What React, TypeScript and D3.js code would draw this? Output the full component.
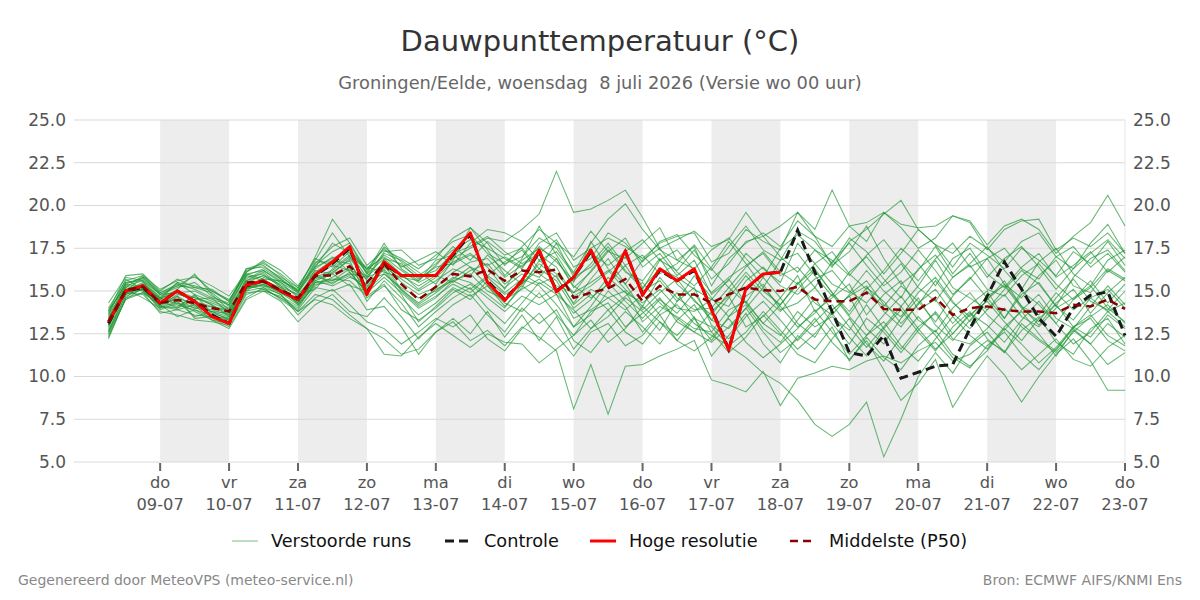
import { useEffect, useRef } from "react";
import * as d3 from "d3";

// Dutch day abbreviations, indexed by getUTCDay()
const dayNames = ["zo", "ma", "di", "wo", "do", "vr", "za"];

// 6-hourly values, first step 08-07 06:00
const hiRes = [
  13.2, 15.0, 15.3, 14.3, 15.0, 14.4, 13.5, 13.1, 15.35, 15.6,
  15.0, 14.5, 15.95, 16.7, 17.6, 14.8, 16.7, 15.9, 15.9, 15.9,
  17.2, 18.4, 15.5, 14.45, 15.6, 17.4, 14.95, 15.8, 17.4, 15.3,
  17.35, 14.75, 16.3, 15.6, 16.3, 13.9, 11.55, 15.15, 16.0, 16.1,
];

const control = [
  13.1, 15.0, 15.2, 14.3, 15.0, 14.4, 13.6, 13.1, 15.3, 15.6,
  15.0, 14.5, 15.9, 16.6, 17.5, 14.9, 16.6, 15.9, 15.9, 15.9,
  17.1, 18.3, 15.6, 14.5, 15.6, 17.3, 15.0, 15.8, 17.3, 15.3,
  17.3, 14.8, 16.2, 15.6, 16.2, 14.0, 11.6, 15.1, 16.0, 16.1,
  18.55, 16.1, 13.8, 11.4, 11.2, 12.4, 9.9, 10.25, 10.6, 10.7,
  12.8, 14.7, 16.7, 15.1, 13.4, 12.35, 14.0, 14.75, 14.95, 12.4,
];

const p50 = [
  13.2, 15.06, 15.25, 14.3, 14.47, 14.3, 14.0, 13.8, 15.5, 15.55,
  15.06, 14.6, 15.9, 15.9, 16.45, 15.5, 16.6, 15.4, 14.5, 15.25,
  16.0, 15.85, 16.25, 15.6, 16.2, 16.1, 16.25, 14.6, 14.9, 15.15,
  15.7, 14.4, 15.3, 14.8, 14.8, 14.3, 14.8, 15.2, 15.05, 15.0,
  15.25, 14.5, 14.4, 14.4, 14.9, 13.95, 13.9, 13.9, 14.6, 13.6,
  14.0, 14.1, 13.9, 13.8, 13.8, 13.7, 14.2, 14.1, 14.5, 13.95,
];

const members: number[][] = [
  [13.0,15.3,15.6,14.1,14.8,14.6,14.2,13.5,15.8,16.0, 15.2,14.4,16.3,17.0,16.1,14.9,16.9,16.0,15.1,15.8, 16.7,17.2,16.4,15.1,16.8,17.5,16.9,15.2,16.1,17.3, 18.1,16.4,17.2,15.9,16.8,14.8,15.6,17.2,16.3,15.5, 17.8,16.6,15.4,14.9,16.2,15.0,14.1,15.3,16.8,15.2, 14.6,13.9,15.1,16.2,15.4,14.1,15.8,16.9,17.4,16.2],
  [13.5,14.8,15.1,14.6,14.2,13.9,13.6,13.2,15.2,15.4, 14.9,14.2,15.5,15.6,16.0,15.8,16.2,14.8,13.2,14.1, 15.1,14.5,15.6,14.8,15.3,14.6,15.2,13.4,13.9,14.6, 15.0,13.2,14.1,13.5,12.8,12.6,13.9,14.4,13.1,12.4, 13.8,12.9,13.5,12.7,14.2,12.8,11.6,12.9,13.7,12.2, 11.9,12.8,14.0,12.9,12.1,11.4,12.6,13.5,14.2,13.1],
  [12.6,15.0,15.8,14.8,15.3,15.9,15.0,14.4,16.1,16.7, 15.9,15.0,16.6,17.6,18.1,16.5,17.4,16.9,16.3,17.1, 17.9,18.3,17.2,16.6,17.0,18.1,17.5,16.1,17.8,19.2, 20.1,18.6,17.4,16.8,17.6,15.3,16.9,17.8,18.4,17.6, 19.1,18.2,16.5,17.3,18.8,16.9,15.4,16.2,17.6,16.0, 17.2,15.8,16.9,17.6,16.4,15.1,16.3,17.8,18.9,17.2],
  [13.1,14.9,14.8,13.8,13.6,13.3,13.2,13.0,14.8,15.1, 14.6,13.9,15.2,15.0,15.4,13.9,14.1,12.9,11.3,12.6, 13.4,12.5,13.8,12.3,13.6,12.1,13.5,11.6,12.8,13.9, 12.6,11.9,13.2,12.4,13.5,11.2,12.4,13.7,11.9,10.8, 12.4,11.6,12.9,10.9,12.3,11.1,10.4,11.8,12.7,11.3, 10.6,11.5,12.8,11.9,10.8,11.7,12.9,13.4,12.1,11.5],
  [14.0,15.6,15.9,14.9,15.4,15.1,14.6,14.3,16.3,16.4, 15.8,15.2,16.9,16.4,17.3,16.1,17.8,16.3,15.6,16.5, 17.6,16.8,17.9,17.1,17.5,16.3,17.8,15.8,16.4,17.6, 16.2,15.1,16.8,17.4,16.2,14.9,15.8,16.5,17.2,15.9, 16.4,15.2,16.7,17.8,16.5,15.3,16.1,17.4,16.2,14.8, 15.7,16.9,15.4,14.6,15.9,16.8,15.3,14.9,16.2,15.6],
  [12.2,14.6,15.4,14.4,14.0,14.8,13.7,13.4,15.6,15.9, 15.3,14.8,15.8,16.2,17.0,15.6,16.0,15.1,14.2,14.9, 15.7,16.4,15.3,14.1,15.2,16.8,16.0,14.9,15.5,16.2, 15.1,14.1,15.8,14.6,13.9,14.0,15.2,14.3,15.8,14.6, 15.9,13.8,14.6,15.4,13.6,14.8,15.6,13.9,14.5,13.1, 14.2,15.0,13.4,14.8,15.5,14.1,13.3,14.6,15.1,14.0],
  [12.9,15.2,15.0,14.0,14.7,14.1,13.9,13.6,15.1,15.8, 15.4,14.7,16.1,16.8,16.6,15.3,16.4,15.7,15.0,15.6, 16.3,15.9,17.1,16.2,15.4,16.6,15.8,14.3,15.7,16.9, 15.4,13.9,14.9,15.7,14.4,13.6,14.9,16.1,15.0,14.2, 15.4,16.3,14.9,13.8,15.2,14.4,13.1,14.2,15.6,14.3, 13.5,14.7,15.3,14.0,13.2,14.6,15.7,14.4,13.9,15.0],
  [13.8,15.9,16.0,15.0,15.7,15.2,14.9,14.1,16.0,15.7, 15.6,15.1,17.0,19.2,17.8,16.2,17.1,16.5,15.8,16.2, 17.2,17.6,18.2,17.3,16.6,17.2,18.0,16.4,16.9,18.4, 17.8,16.7,17.9,18.3,17.1,16.2,17.6,18.8,17.4,16.8, 18.5,17.9,16.6,18.1,17.3,16.0,17.2,18.6,17.7,16.4, 17.8,17.1,16.3,17.5,16.8,15.9,17.3,16.6,17.9,16.5],
  [12.4,14.5,14.9,14.2,13.5,13.9,13.4,12.9,14.6,15.2, 14.8,13.6,14.6,15.1,14.2,13.2,12.8,11.9,12.6,13.4, 12.9,13.6,12.2,11.5,12.8,13.7,12.4,11.2,12.6,13.1, 11.8,12.4,13.6,12.1,11.5,12.3,13.4,12.0,11.1,11.9, 12.8,13.9,12.6,11.3,12.4,13.2,11.8,10.9,12.2,13.5, 12.4,11.6,12.9,13.8,12.5,11.2,12.7,11.9,13.1,12.3],
  [13.4,15.0,15.5,14.5,15.1,16.0,14.8,13.9,15.3,15.5, 15.0,14.3,15.7,16.1,16.8,14.6,15.3,14.3,12.9,13.8, 14.6,15.2,14.0,13.1,14.3,15.5,14.8,12.9,13.6,15.0, 14.1,12.6,13.8,14.9,13.4,12.1,13.5,14.2,12.8,12.0, 13.3,14.6,13.1,11.9,13.4,12.6,11.4,12.7,13.8,12.5, 13.6,14.4,13.2,12.1,13.4,14.2,12.9,12.3,13.6,12.8],
  [13.3,15.4,15.2,14.3,14.5,14.0,14.1,13.8,15.4,15.3, 15.1,14.5,15.9,16.5,16.2,15.9,16.6,15.5,14.8,15.2, 16.1,16.7,16.9,15.8,16.5,17.1,16.4,14.7,15.3,16.1, 17.0,15.2,16.3,15.8,15.1,14.5,14.1,15.6,16.4,15.3, 14.8,15.7,16.2,15.0,14.3,15.5,16.6,15.2,14.4,15.8, 16.5,15.1,14.7,15.9,16.6,15.4,14.5,15.2,16.3,15.7],
  [12.7,14.7,15.1,13.9,14.3,13.8,13.3,13.1,14.9,15.0, 14.7,14.1,15.4,15.5,15.9,15.1,16.3,15.0,14.1,14.7, 15.4,14.9,15.8,14.9,15.7,15.3,14.2,12.9,14.1,15.5, 14.4,13.4,14.5,13.7,14.9,13.3,12.8,14.0,15.2,14.1, 12.9,13.7,14.8,13.5,12.4,13.6,14.7,13.3,12.6,14.0, 14.9,13.6,12.7,13.9,14.8,13.4,12.8,14.1,15.3,14.2],
  [13.6,15.1,15.4,14.7,15.0,14.6,14.3,13.9,15.7,16.2, 15.5,14.9,16.4,16.9,17.4,16.3,17.0,16.2,15.5,16.0, 16.9,17.5,18.1,17.9,18.6,19.5,22.0,19.6,19.8,20.3, 20.9,19.3,17.5,18.0,18.5,17.6,18.0,19.6,18.2,18.8, 19.6,18.6,20.9,18.8,17.9,19.6,18.7,17.5,18.1,19.4, 19.0,17.4,18.6,19.1,19.2,17.4,18.1,17.6,18.4,17.2],
  [13.0,14.9,15.2,14.1,13.9,13.6,13.5,13.3,15.0,15.2, 14.5,13.8,14.8,14.5,13.6,12.8,12.2,11.3,11.6,12.6, 13.2,12.1,12.7,11.8,12.9,12.3,11.5,8.1,10.7,7.8, 10.6,10.7,11.2,11.6,12.1,9.8,9.5,9.1,10.3,8.3, 9.9,10.2,10.6,10.4,10.9,11.2,10.8,11.5,12.0,10.9, 11.3,12.1,11.5,10.4,11.3,12.2,11.0,10.6,11.7,12.4],
  [13.2,15.0,15.1,14.2,14.6,14.2,13.8,13.7,15.4,15.6, 15.0,14.5,15.8,15.6,16.3,15.2,16.5,15.1,14.3,15.1, 15.6,15.1,15.9,15.2,16.0,15.4,15.9,14.2,15.1,14.6, 13.9,14.8,13.6,14.2,13.1,12.4,11.8,11.1,10.2,9.6, 8.6,7.2,6.5,7.2,8.5,5.3,7.5,10.0,11.4,10.2, 11.8,12.6,11.4,13.1,12.2,11.5,12.9,13.6,12.4,11.8],
  [13.7,15.5,15.7,14.8,15.2,15.5,14.7,14.2,16.2,16.5, 15.7,14.9,16.5,17.3,17.8,16.0,17.6,16.7,15.9,16.6, 17.4,18.0,17.5,16.9,16.3,17.8,18.4,16.8,17.5,18.1, 17.6,16.9,17.8,18.2,18.4,16.7,17.2,18.6,17.9,17.4, 19.6,18.2,17.6,18.8,19.0,19.6,18.9,18.7,18.8,19.4, 19.1,17.7,18.8,19.2,18.6,17.2,18.2,19.0,20.6,18.8],
  [12.5,14.8,15.3,14.6,14.9,14.4,14.1,13.9,15.6,16.1, 15.3,14.2,15.3,15.8,16.4,14.4,15.6,14.6,13.6,14.3, 15.2,14.7,15.3,14.3,13.8,14.9,13.6,12.4,13.8,14.3, 12.9,13.7,14.6,13.2,12.6,13.8,14.7,12.9,13.5,14.6, 13.1,12.3,13.9,14.7,12.8,11.9,13.4,14.6,13.0,12.1, 13.3,14.5,15.6,14.1,13.0,14.3,15.1,13.7,14.9,15.8],
  [14.3,15.8,15.6,14.6,15.5,15.3,15.0,14.5,16.0,16.2, 15.6,15.0,16.2,16.0,16.9,15.7,17.2,16.8,16.1,15.4, 16.8,18.7,17.4,15.9,16.9,18.8,17.1,15.5,17.9,16.3, 15.4,16.8,17.5,16.1,15.3,16.4,17.9,16.6,15.2,16.8, 17.2,15.9,14.7,16.1,17.0,15.7,14.6,16.3,17.1,15.8, 16.6,17.6,16.2,15.1,16.7,17.5,16.0,15.3,16.8,17.4],
  [12.8,15.1,14.6,14.0,14.4,13.5,13.8,13.5,15.1,15.4, 14.9,14.4,15.6,15.3,15.8,15.4,16.8,15.9,15.3,15.9, 15.5,16.2,16.6,15.4,16.2,15.8,16.9,15.3,14.6,15.4, 16.5,15.0,15.6,14.4,15.9,14.6,13.5,14.7,15.4,13.9, 14.3,15.2,13.9,14.7,15.3,13.8,12.9,14.3,15.1,13.7, 12.8,13.9,14.8,13.5,12.9,14.0,14.6,15.3,14.0,13.2],
  [13.0,14.9,15.3,14.4,14.1,14.7,14.2,13.6,15.2,15.3, 14.8,13.8,14.5,14.2,13.4,12.8,11.3,11.2,12.3,13.1, 12.4,11.7,12.5,12.0,11.9,10.8,11.6,12.4,13.3,12.0, 12.8,14.1,13.2,12.1,13.4,12.9,11.8,12.6,13.8,12.7, 11.6,12.5,13.7,12.3,11.2,12.8,13.9,12.6,11.5,12.9, 13.8,12.2,11.4,12.7,13.5,12.0,11.3,12.8,13.4,11.9],
  [13.9,15.2,15.9,15.1,15.6,15.8,15.3,14.7,16.1,16.8, 16.2,15.3,16.8,18.4,17.0,16.3,17.5,16.4,16.8,17.3, 16.5,17.8,18.6,18.4,17.9,16.8,17.3,16.0,17.2,16.5, 17.3,18.0,16.8,16.2,17.4,15.7,16.6,17.9,18.2,17.0, 16.1,17.4,16.8,15.9,17.1,18.0,16.7,15.6,16.9,17.8, 16.4,16.9,17.5,16.3,15.7,17.0,17.6,16.4,17.2,16.1],
  [12.3,14.6,14.9,13.7,13.9,14.2,13.3,12.8,14.5,15.0, 14.4,13.2,14.2,14.8,13.8,13.5,14.6,13.5,12.2,13.3, 14.2,14.8,13.6,12.6,14.0,13.1,13.9,12.1,11.4,12.7, 13.8,12.9,11.9,13.3,14.2,12.6,11.4,12.3,13.6,12.5, 11.3,10.8,12.2,13.4,11.9,10.9,12.3,13.5,12.4,11.1, 10.5,11.8,12.6,11.3,10.4,11.6,12.8,11.9,10.7,11.4],
  [13.6,15.7,15.1,14.5,15.5,14.8,14.4,14.0,15.9,15.6, 15.2,14.8,15.1,16.3,17.1,16.4,16.1,15.8,15.6,16.8, 17.1,16.4,15.9,16.7,17.4,16.0,15.3,14.9,16.2,17.4, 16.1,15.6,16.9,15.4,14.5,13.3,14.6,15.9,14.7,13.8, 15.1,16.2,14.9,13.6,15.0,14.1,15.3,14.4,13.2,14.7, 15.8,14.6,13.4,15.0,14.2,13.1,14.5,15.6,14.3,15.4],
  [13.2,15.3,15.0,14.1,14.0,14.5,14.6,13.7,15.5,15.9, 15.5,14.6,16.0,15.4,16.1,14.9,15.8,14.9,14.0,14.6, 15.6,16.0,15.0,14.5,15.1,15.7,15.0,13.7,14.5,15.8, 14.9,14.3,15.1,14.0,13.8,14.5,15.7,14.3,13.1,14.2, 15.5,14.3,13.6,14.8,15.6,14.2,13.5,14.9,15.8,14.4, 13.2,14.5,15.4,14.1,13.6,14.9,13.9,14.6,13.8,14.3],
  [13.4,15.5,15.6,14.8,14.9,15.0,14.5,14.2,15.9,16.3, 15.7,15.0,16.7,16.7,17.5,16.0,16.9,16.6,15.7,16.4, 16.6,17.1,16.5,17.0,16.4,17.6,16.7,15.6,16.6,17.8, 16.5,17.1,16.0,16.6,17.7,16.3,15.2,16.4,17.3,16.1, 15.4,16.6,17.3,16.0,15.1,16.2,17.5,16.6,15.3,16.9, 17.5,16.0,15.2,16.4,17.2,15.8,16.5,17.3,16.1,17.0],
  [12.6,14.5,15.2,14.3,14.7,13.4,13.5,13.4,15.3,15.1, 14.6,14.0,15.5,15.7,15.6,14.7,15.4,13.9,13.3,14.0, 14.9,15.4,14.6,13.8,14.7,14.2,14.8,13.9,12.8,13.5, 14.6,13.8,12.7,14.4,15.2,13.0,12.2,13.5,14.4,13.3, 12.1,13.2,14.2,12.9,11.7,12.9,14.1,12.8,11.6,12.5, 13.7,13.0,12.0,13.3,14.4,13.1,11.9,12.6,13.8,12.9],
  [13.1,14.9,15.4,14.5,14.3,14.0,13.8,13.3,15.0,15.7, 15.1,14.3,15.6,16.0,15.3,15.0,16.0,15.2,14.6,15.0, 15.8,15.5,14.8,14.0,15.4,16.3,15.6,14.0,14.8,13.9, 14.7,15.5,14.3,13.4,12.6,12.0,12.9,14.0,12.6,11.4, 12.2,13.4,12.0,11.0,12.1,10.4,8.6,9.6,11.0,8.2, 9.8,11.2,10.1,8.5,10.0,11.3,12.2,10.9,9.2,9.2],
  [13.8,15.4,15.8,14.9,15.3,15.2,15.1,14.4,16.3,16.6, 16.0,15.2,16.4,17.8,17.2,15.8,17.3,17.4,16.5,16.9, 18.1,18.7,17.8,16.5,17.6,18.6,17.8,17.0,18.5,17.3, 16.9,17.8,18.7,16.8,16.3,17.4,18.1,16.9,15.8,17.5, 18.3,17.4,16.4,17.9,18.6,19.5,20.3,18.6,17.7,17.2, 18.2,17.5,16.7,17.9,18.4,17.0,16.3,17.2,18.0,16.9],
];

const yTicks = [5, 7.5, 10, 12.5, 15, 17.5, 20, 22.5, 25];

const App = () => {
  const ref = useRef<SVGSVGElement>(null);

  useEffect(() => {
    const svg = d3.select(ref.current);
    svg.selectAll("*").remove();

    const width = 1200;
    const left = 74, right = 1125, top = 120, bottom = 462;
    const font = "DejaVu Sans, sans-serif";
    const memberColor = "rgb(30,150,50)";

    const runStart = Date.UTC(2026, 6, 8, 6);
    const stepMs = 6 * 3600 * 1000;
    const timeAt = (i: number) => new Date(runStart + i * stepMs);

    const x = d3
      .scaleUtc()
      .domain([new Date(Date.UTC(2026, 6, 7, 18)), new Date(Date.UTC(2026, 6, 23, 0))])
      .range([left, right]);
    const y = d3.scaleLinear().domain([5, 25]).range([bottom, top]);

    const days = d3.utcDay.range(new Date(Date.UTC(2026, 6, 9)), new Date(Date.UTC(2026, 6, 23, 1)));

    // alternating day shading
    svg
      .append("g")
      .selectAll("rect")
      .data(days.filter((_, i) => i % 2 === 0 && i < days.length - 1))
      .enter()
      .append("rect")
      .attr("x", (d) => x(d))
      .attr("y", top)
      .attr("width", (d) => x(d3.utcDay.offset(d, 1)) - x(d))
      .attr("height", bottom - top)
      .attr("fill", "#ededed");

    // horizontal grid
    svg
      .append("g")
      .selectAll("line")
      .data(yTicks)
      .enter()
      .append("line")
      .attr("x1", left)
      .attr("x2", right)
      .attr("y1", (d) => y(d))
      .attr("y2", (d) => y(d))
      .attr("stroke", "#d9d9d9")
      .attr("stroke-width", 1);

    svg
      .append("line")
      .attr("x1", right)
      .attr("x2", right)
      .attr("y1", top)
      .attr("y2", bottom)
      .attr("stroke", "#e6e6e6");

    // y labels both sides
    const yLab = svg.append("g").attr("font-family", font).attr("font-size", 17).attr("fill", "#555");
    yLab
      .selectAll(".yl")
      .data(yTicks)
      .enter()
      .append("text")
      .attr("x", 66)
      .attr("y", (d) => y(d))
      .attr("dy", "0.35em")
      .attr("text-anchor", "end")
      .text((d) => d.toFixed(1));
    yLab
      .selectAll(".yr")
      .data(yTicks)
      .enter()
      .append("text")
      .attr("x", 1133)
      .attr("y", (d) => y(d))
      .attr("dy", "0.35em")
      .attr("text-anchor", "start")
      .text((d) => d.toFixed(1));

    // x ticks + labels
    const xg = svg.append("g").attr("font-family", font).attr("font-size", 16.3).attr("fill", "#555");
    days.forEach((d) => {
      const px = x(d);
      xg.append("line")
        .attr("x1", px)
        .attr("x2", px)
        .attr("y1", bottom + 1)
        .attr("y2", bottom + 9)
        .attr("stroke", "#666")
        .attr("stroke-width", 2);
      xg.append("text")
        .attr("x", px)
        .attr("y", 488)
        .attr("text-anchor", "middle")
        .text(dayNames[d.getUTCDay()]);
      xg.append("text")
        .attr("x", px)
        .attr("y", 510)
        .attr("text-anchor", "middle")
        .text(d3.utcFormat("%d-%m")(d));
    });

    const line = d3
      .line<number>()
      .x((_, i) => x(timeAt(i)))
      .y((d) => y(d));

    // ensemble members
    svg
      .append("g")
      .selectAll("path")
      .data(members)
      .enter()
      .append("path")
      .attr("d", (d) => line(d))
      .attr("fill", "none")
      .attr("stroke", memberColor)
      .attr("stroke-opacity", 0.68)
      .attr("stroke-width", 1.05);

    svg
      .append("path")
      .attr("d", line(control))
      .attr("fill", "none")
      .attr("stroke", "#1a1a1a")
      .attr("stroke-width", 3)
      .attr("stroke-dasharray", "9,5");

    svg
      .append("path")
      .attr("d", line(hiRes))
      .attr("fill", "none")
      .attr("stroke", "#ff0000")
      .attr("stroke-width", 3)
      .attr("stroke-linejoin", "round");

    svg
      .append("path")
      .attr("d", line(p50))
      .attr("fill", "none")
      .attr("stroke", "#8b0000")
      .attr("stroke-width", 2.5)
      .attr("stroke-dasharray", "8,5");

    // titles
    svg
      .append("text")
      .attr("x", width / 2)
      .attr("y", 51)
      .attr("text-anchor", "middle")
      .attr("font-family", font)
      .attr("font-size", 29)
      .attr("fill", "#333")
      .text("Dauwpunttemperatuur (°C)");
    svg
      .append("text")
      .attr("x", width / 2)
      .attr("y", 89)
      .attr("text-anchor", "middle")
      .attr("font-family", font)
      .attr("font-size", 17.8)
      .attr("fill", "#666")
      .style("white-space", "pre")
      .text("Groningen/Eelde, woensdag  8 juli 2026 (Versie wo 00 uur)");

    // legend
    const legendItems = [
      { label: "Verstoorde runs", x: 232, color: memberColor, width: 1, dash: null, opacity: 0.6 },
      { label: "Controle", x: 445, color: "#1a1a1a", width: 3, dash: "9,5", opacity: 1 },
      { label: "Hoge resolutie", x: 590, color: "#ff0000", width: 3, dash: null, opacity: 1 },
      { label: "Middelste (P50)", x: 790, color: "#8b0000", width: 2.5, dash: "8,5", opacity: 1 },
    ];
    const lg = svg.append("g").attr("font-family", font).attr("font-size", 17.7).attr("fill", "#111");
    legendItems.forEach((it) => {
      lg.append("line")
        .attr("x1", it.x)
        .attr("x2", it.x + 26)
        .attr("y1", 541)
        .attr("y2", 541)
        .attr("stroke", it.color)
        .attr("stroke-width", it.width)
        .attr("stroke-opacity", it.opacity)
        .attr("stroke-dasharray", it.dash);
      lg.append("text")
        .attr("x", it.x + 39)
        .attr("y", 541)
        .attr("dy", "0.35em")
        .text(it.label);
    });

    // footer
    svg
      .append("text")
      .attr("x", 18)
      .attr("y", 585)
      .attr("font-family", font)
      .attr("font-size", 14)
      .attr("fill", "#888")
      .text("Gegenereerd door MeteoVPS (meteo-service.nl)");
    svg
      .append("text")
      .attr("x", 1182)
      .attr("y", 585)
      .attr("text-anchor", "end")
      .attr("font-family", font)
      .attr("font-size", 14)
      .attr("fill", "#888")
      .text("Bron: ECMWF AIFS/KNMI Ens");
  }, []);

  return (
    <svg
      ref={ref}
      width={1200}
      height={600}
      style={{ position: "absolute", left: 0, top: 0, background: "#fff" }}
    />
  );
};

export default App;
